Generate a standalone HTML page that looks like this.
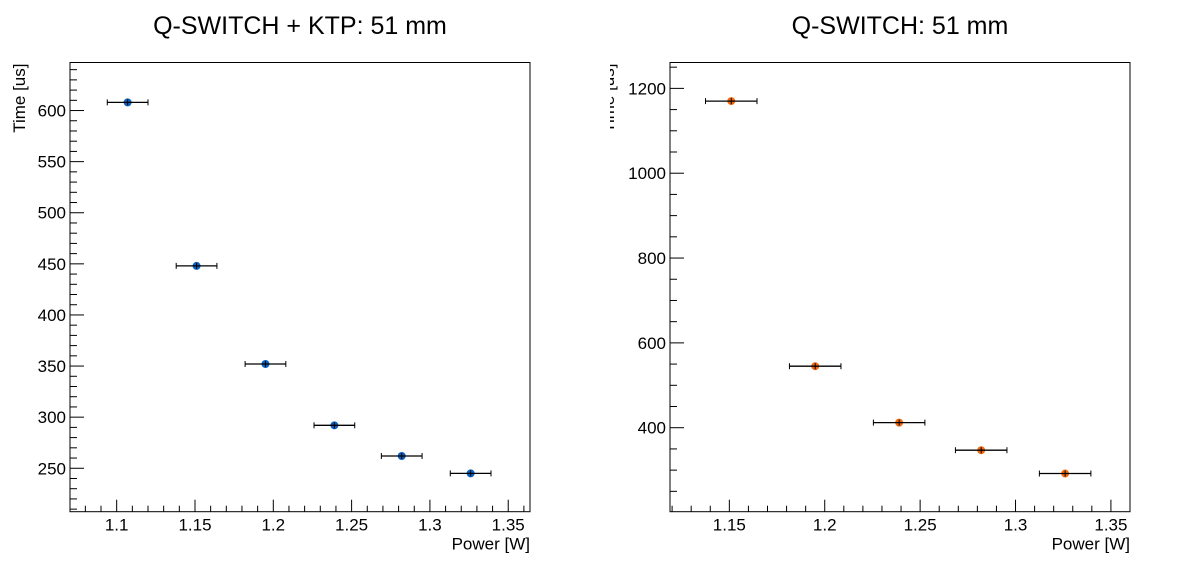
<!DOCTYPE html>
<html><head><meta charset="utf-8"><style>
body{margin:0;background:#fff;}
svg{display:block;font-family:"Liberation Sans",Arial,sans-serif;}
</style></head><body>
<svg id="c" width="1198" height="574"></svg>
<script>
const leftX=[1.107,1.151,1.195,1.239,1.282,1.326];
const leftY=[608,448,352,292,262,245];
const leftEX=[0.013,0.013,0.013,0.013,0.013,0.013];
const rightX=[1.151,1.195,1.239,1.282,1.326];
const rightY=[1170,545,412,347,292];
const rightEX=[0.0135,0.0135,0.0135,0.0135,0.0135];
const leftXTicks=["1.1","1.15","1.2","1.25","1.3","1.35"];
const leftYTicks=["250","300","350","400","450","500","550","600"];
const rightXTicks=["1.15","1.2","1.25","1.3","1.35"];
const rightYTicks=["400","600","800","1000","1200"];

const NS="http://www.w3.org/2000/svg";
const svg=document.getElementById('c');
function mk(t,a,p){const e=document.createElementNS(NS,t);for(const k in a)e.setAttribute(k,a[k]);(p||svg).appendChild(e);return e;}

function panel(o){
  const g=mk('g',{});
  
  
  const sx=v=>o.x0+(v-o.xmin)/(o.xmax-o.xmin)*(o.x1-o.x0);
  const sy=v=>o.y1-(v-o.ymin)/(o.ymax-o.ymin)*(o.y1-o.y0);
  const fr=mk('rect',{x:o.x0,y:o.y0,width:o.x1-o.x0,height:o.y1-o.y0,fill:'none',stroke:'#000','stroke-width':1},g);
  
  
  for(let v=Math.ceil(o.xmin/0.01)*0.01;v<=o.xmax+1e-9;v+=0.01){
    const major=Math.abs(Math.round(v*20)-v*20)<1e-6;
    const x=sx(v);
    mk('line',{x1:x,x2:x,y1:o.y1,y2:o.y1-(major?12:6),stroke:'#000'},g);
  }
  o.xt.forEach(s=>{
    const t=mk('text',{x:sx(+s),y:o.y1+19,'font-size':17,'text-anchor':'middle'},g);t.textContent=s;
    
  });
  for(let v=Math.ceil(o.ymin/o.ym)*o.ym;v<=o.ymax;v+=o.ym){
    const major=Math.abs(v%o.yM)<1e-6;const y=sy(v);
    mk('line',{x1:o.x0,x2:o.x0+(major?14:7),y1:y,y2:y,stroke:'#000'},g);
  }
  o.yt.forEach(s=>{
    const t=mk('text',{x:o.x0-4,y:sy(+s)+6,'font-size':17,'text-anchor':'end'},g);t.textContent=s;
    
  });
  const xt=mk('text',{x:o.x1,y:o.y1+38,'font-size':17,'text-anchor':'end'},g);xt.textContent='Power [W]';
  
  const ti=mk('text',{x:(o.x0+o.x1)/2,y:34,'font-size':25,'text-anchor':'middle'},g);ti.textContent=o.title;
  
  const yg=mk('g',o.clip?{'clip-path':'url(#'+o.clip+')'}:{},g);
  const yt=mk('text',{transform:'translate('+o.ytx+','+(o.y0+1)+') rotate(-90)','font-size':17,'text-anchor':'end'},yg);yt.textContent='Time [us]';
  
  o.X.forEach((xv,i)=>{
    const pg=mk('g',{},g);
    
    const cx=sx(xv),cy=sy(o.Y[i]),a=sx(xv-o.EX[i]),b=sx(xv+o.EX[i]);
    mk('circle',{cx:cx,cy:cy,r:4,fill:o.col},pg);
    mk('line',{x1:a,x2:b,y1:cy,y2:cy,stroke:'#000','stroke-width':1.3},pg);
    mk('line',{x1:a,x2:a,y1:cy-3,y2:cy+3,stroke:'#000'},pg);
    mk('line',{x1:b,x2:b,y1:cy-3,y2:cy+3,stroke:'#000'},pg);
    mk('line',{x1:cx,x2:cx,y1:cy-3,y2:cy+3,stroke:'#000'},pg);
  });
}
const defs=mk('defs',{});
const cp=mk('clipPath',{id:'rc'},defs);
mk('rect',{x:610,y:0,width:60,height:574},cp);
panel({name:'left-panel',x0:70,x1:530,y0:62.5,y1:511.7,xmin:1.0702,xmax:1.3639,ymin:207.5,ymax:647,
  ym:10,yM:50,xt:leftXTicks,yt:leftYTicks,X:leftX,Y:leftY,EX:leftEX,col:'#0b62c0',title:'Q-SWITCH + KTP: 51 mm',ytx:25});
panel({name:'right-panel',x0:670,x1:1130,y0:62.5,y1:511.7,xmin:1.1189,xmax:1.360,ymin:202,ymax:1261,
  ym:50,yM:200,xt:rightXTicks,yt:rightYTicks,X:rightX,Y:rightY,EX:rightEX,col:'#f26a10',title:'Q-SWITCH: 51 mm',ytx:614,clip:'rc'});
</script>
</body></html>
